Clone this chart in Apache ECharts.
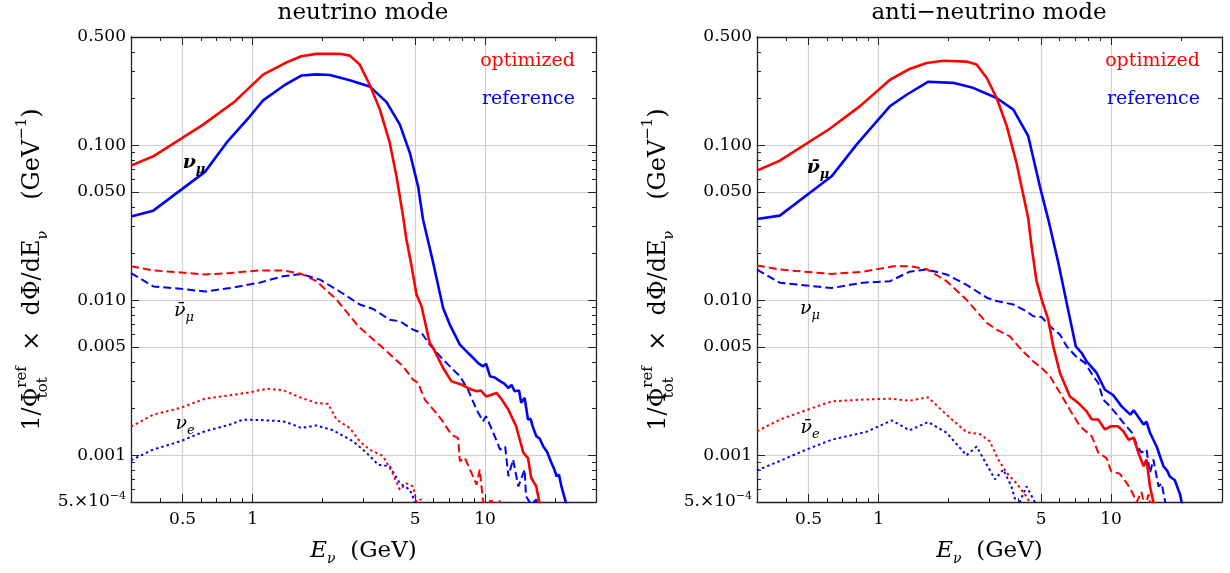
<!DOCTYPE html>
<html>
<head>
<meta charset="utf-8">
<title>neutrino / anti-neutrino flux</title>
<script src="https://cdn.jsdelivr.net/npm/echarts@6/dist/echarts.min.js"></script>
<style>
  html, body { margin: 0; padding: 0; background: #fff; }
  #chart { width: 1230px; height: 573px; }
</style>
</head>
<body>
<div id="chart"></div>
<script>
// axis ranges and tick values (GeV, GeV^-1)
var xRange = [0.3, 30];
var yRange = [0.0005, 0.5];
var xTicks = [0.5, 1, 5, 10];
var xMinorTicks = [0.4, 0.6, 0.7, 0.8, 0.9, 2, 3, 4, 6, 7, 8, 9, 20];
var yTicks = [0.5, 0.1, 0.05, 0.01, 0.005, 0.001, 0.0005];
var yMinorTicks = [0.4, 0.3, 0.2, 0.09, 0.08, 0.07, 0.06, 0.04, 0.03, 0.02,
  0.009, 0.008, 0.007, 0.006, 0.004, 0.003, 0.002,
  0.0009, 0.0008, 0.0007, 0.0006];

// neutrino mode: [E, flux]
var nuOptNumu = [[0.3,0.074],[0.374,0.085],[0.613,0.136],[0.839,0.192],[1.11,0.286],[1.40,0.343],[1.62,0.376],[1.88,0.389],[2.37,0.390],[2.62,0.379],[2.89,0.332],[3.19,0.246],[3.53,0.170],[3.89,0.104],[4.16,0.063],[4.44,0.0348],[4.59,0.0247],[4.83,0.0166],[5.07,0.0109],[5.33,0.00916],[5.78,0.00531],[5.98,0.00493],[6.6,0.00366],[7.17,0.00300],[7.92,0.00286],[8.5,0.0027],[9.19,0.00259],[9.6,0.00262],[10.1,0.0024],[10.6,0.00245],[11.2,0.00253],[11.8,0.00229],[12.6,0.00197],[13.6,0.00154],[14.6,0.00104],[15.3,0.00096],[15.8,0.000714],[16.6,0.00063],[17.1,0.000505],[17.5,0.00042]];
var nuRefNumu = [[0.3,0.0348],[0.374,0.0379],[0.624,0.0674],[0.773,0.104],[0.974,0.154],[1.11,0.195],[1.38,0.246],[1.62,0.282],[1.88,0.287],[2.15,0.284],[2.62,0.263],[3.19,0.240],[3.77,0.190],[4.30,0.136],[4.75,0.0893],[5.15,0.0544],[5.41,0.0332],[5.98,0.0175],[6.6,0.00893],[7.05,0.00698],[7.79,0.00518],[8.32,0.00469],[9.03,0.00415],[9.4,0.0039],[9.8,0.00375],[10.1,0.0039],[10.5,0.00324],[11.0,0.00318],[11.6,0.00301],[12.1,0.0029],[12.6,0.00272],[13.0,0.00285],[13.4,0.00259],[14.0,0.00262],[14.3,0.00218],[14.8,0.00235],[15.3,0.0017],[15.7,0.00172],[16.0,0.00155],[16.6,0.00133],[17.2,0.00128],[17.8,0.00114],[18.5,0.00105],[19.3,0.000893],[19.8,0.00082],[20.3,0.000733],[20.8,0.00075],[21.3,0.00063],[22.2,0.000505],[22.6,0.00045]];
var nuOptNumubar = [[0.3,0.0166],[0.374,0.0156],[0.624,0.0147],[0.80,0.0150],[1.07,0.0156],[1.35,0.0156],[1.62,0.0148],[1.88,0.0133],[2.30,0.0101],[2.85,0.0068],[3.64,0.00493],[4.44,0.00375],[4.9,0.00308],[5.15,0.00293],[5.51,0.00229],[6.08,0.00192],[6.5,0.0017],[7.17,0.00136],[7.66,0.00129],[7.79,0.000916],[8.18,0.000964],[8.74,0.00077],[9.19,0.000647],[9.49,0.00081],[9.8,0.000505],[10.3,0.00046],[10.6,0.00053],[11.0,0.00044],[11.5,0.00052],[12.0,0.0004]];
var nuRefNumubar = [[0.3,0.0150],[0.374,0.0123],[0.487,0.0119],[0.624,0.0114],[0.80,0.0120],[1.07,0.0130],[1.35,0.0143],[1.62,0.0148],[1.95,0.0136],[2.37,0.0114],[2.89,0.0094],[3.30,0.0088],[3.89,0.0075],[4.30,0.00733],[4.9,0.00647],[5.33,0.00617],[5.78,0.00518],[6.5,0.00425],[7.17,0.00366],[7.79,0.00324],[8.45,0.00265],[9.19,0.00197],[9.8,0.00166],[10.1,0.00179],[11.0,0.00133],[11.6,0.00109],[12.2,0.00114],[12.6,0.000733],[13.2,0.00094],[13.9,0.00063],[14.8,0.00081],[15.0,0.000544],[15.8,0.00048],[16.6,0.00052],[17.2,0.00042]];
var nuOptNue = [[0.3,0.00153],[0.374,0.00183],[0.487,0.00202],[0.624,0.00232],[0.80,0.00244],[0.974,0.00255],[1.15,0.00269],[1.35,0.00263],[1.62,0.00235],[1.88,0.00218],[2.11,0.00215],[2.30,0.0017],[2.62,0.0015],[2.89,0.00123],[3.19,0.00109],[3.64,0.00099],[3.96,0.00079],[4.30,0.0006],[4.59,0.00066],[4.9,0.00063],[5.07,0.0005],[5.3,0.00052],[5.6,0.00042]];
var nuRefNue = [[0.3,0.00093],[0.374,0.00109],[0.487,0.00123],[0.624,0.00143],[0.80,0.00158],[0.911,0.0017],[1.07,0.00169],[1.35,0.00166],[1.49,0.00158],[1.62,0.0015],[1.88,0.00156],[2.22,0.00145],[2.71,0.00123],[3.09,0.00104],[3.47,0.00087],[3.89,0.00085],[4.30,0.00066],[4.75,0.0006],[5.0,0.0005],[5.2,0.00044]];

// anti-neutrino mode: [E, flux]
var anuOptNumubar = [[0.3,0.0687],[0.376,0.0797],[0.617,0.128],[0.832,0.179],[1.12,0.265],[1.36,0.311],[1.61,0.340],[1.90,0.351],[2.39,0.347],[2.64,0.332],[2.92,0.272],[3.22,0.202],[3.56,0.133],[3.92,0.077],[4.40,0.0340],[4.55,0.0223],[4.78,0.0133],[5.03,0.0101],[5.37,0.0075],[5.64,0.00505],[6.03,0.0034],[6.65,0.0024],[7.22,0.00218],[7.85,0.00192],[8.25,0.00171],[8.81,0.0017],[9.41,0.00147],[10.0,0.00154],[10.7,0.00154],[11.3,0.00143],[11.9,0.00126],[12.5,0.0013],[13.1,0.00104],[13.8,0.00085],[14.2,0.00094],[14.7,0.00063],[15.2,0.0005],[15.5,0.00042]];
var anuRefNumubar = [[0.3,0.0335],[0.376,0.0352],[0.628,0.0631],[0.804,0.101],[1.12,0.179],[1.32,0.212],[1.63,0.257],[2.09,0.253],[2.55,0.235],[3.22,0.202],[3.80,0.170],[4.40,0.115],[4.94,0.0544],[5.37,0.0332],[5.93,0.0175],[6.44,0.00964],[7.05,0.00505],[7.47,0.00458],[7.85,0.00404],[8.67,0.0034],[9.41,0.00265],[10.2,0.00245],[11.1,0.00207],[12.1,0.00183],[12.5,0.00195],[12.9,0.00183],[13.8,0.00158],[14.2,0.00165],[14.7,0.0014],[15.7,0.00114],[16.8,0.00085],[17.4,0.0008],[17.9,0.00073],[18.8,0.00069],[19.8,0.00056],[20.1,0.0005],[20.5,0.00042]];
var anuOptNumu = [[0.3,0.0168],[0.376,0.0158],[0.628,0.0148],[0.859,0.0153],[1.16,0.0166],[1.36,0.0166],[1.61,0.0159],[1.96,0.0133],[2.39,0.0101],[2.92,0.00715],[3.22,0.00647],[3.67,0.00586],[4.12,0.00479],[4.63,0.00404],[5.03,0.00366],[5.46,0.00324],[6.03,0.00253],[6.65,0.00197],[7.35,0.00154],[8.25,0.00133],[8.81,0.00104],[9.57,0.00096],[10.0,0.00079],[10.9,0.00076],[11.7,0.00066],[12.3,0.00058],[12.9,0.0005],[13.5,0.00058],[14.0,0.00046],[14.5,0.00056],[15.0,0.00042]];
var anuRefNumu = [[0.3,0.0158],[0.376,0.0130],[0.628,0.0120],[0.859,0.0130],[1.12,0.0133],[1.36,0.0153],[1.61,0.0158],[1.96,0.0147],[2.39,0.0126],[2.92,0.0104],[3.22,0.0099],[3.80,0.0094],[4.33,0.0085],[4.63,0.0079],[5.03,0.0078],[5.46,0.0068],[6.03,0.00601],[6.44,0.00505],[7.05,0.00436],[7.72,0.00395],[8.38,0.00324],[8.81,0.00293],[9.25,0.00229],[9.9,0.00207],[10.6,0.00183],[11.3,0.00162],[12.3,0.0014],[12.9,0.00117],[13.5,0.00104],[14.2,0.00109],[14.7,0.00077],[15.2,0.00094],[16.0,0.00063],[16.5,0.00066],[17.1,0.0005],[17.5,0.00042]];
var anuOptNuebar = [[0.3,0.00143],[0.376,0.0017],[0.49,0.00196],[0.628,0.00223],[0.859,0.00229],[1.12,0.00232],[1.36,0.00225],[1.63,0.00237],[1.96,0.00183],[2.39,0.00141],[2.73,0.00137],[3.01,0.00123],[3.27,0.00094],[3.56,0.00077],[3.92,0.00066],[4.26,0.00056],[4.50,0.00049],[4.7,0.00042]];
var anuRefNuebar = [[0.3,0.0008],[0.376,0.00092],[0.49,0.00109],[0.628,0.00126],[0.888,0.00142],[1.14,0.00168],[1.36,0.00145],[1.63,0.00164],[1.96,0.0014],[2.39,0.001],[2.64,0.00114],[2.92,0.00087],[3.17,0.0007],[3.44,0.00081],[3.73,0.00063],[3.95,0.00046],[4.33,0.00063],[4.7,0.0005],[4.9,0.00042]];

var RED = '#ff0000', BLUE = '#0000ff';
var FONT = 'DejaVu Serif';

function lg(v) { return Math.log10(v); }
function lgPts(arr) {
  return arr.map(function (p) { return [lg(p[0]), lg(p[1])]; });
}

var grids = [
  { left: 131, top: 37, width: 465, height: 465 },
  { left: 757, top: 37, width: 465, height: 465 }
];

var frameLine = { show: true, onZero: false, lineStyle: { color: '#222', width: 1.3 } };
var noLine = { show: false, onZero: false };

function xAxisFor(g, pos, minor, withLabels) {
  return {
    gridIndex: g, type: 'value', position: pos,
    min: lg(xRange[0]), max: lg(xRange[1]),
    axisLine: minor ? noLine : frameLine,
    axisTick: {
      show: true, inside: true, length: minor ? 4 : 8,
      customValues: (minor ? xMinorTicks : xTicks).map(lg),
      lineStyle: { color: '#222', width: 1 }
    },
    axisLabel: {
      show: !!withLabels, margin: 9,
      customValues: xTicks.map(lg),
      color: '#000', fontFamily: FONT, fontSize: 17,
      formatter: function (v) { return String(Math.round(Math.pow(10, v) * 10) / 10); }
    },
    splitLine: { show: !!withLabels, lineStyle: { color: '#cfcfcf', width: 1.2 } },
    name: withLabels ? '{it|E}{sub|ν}  (GeV)' : '',
    nameLocation: 'middle', nameGap: 34,
    nameTextStyle: {
      color: '#000', fontFamily: FONT, fontSize: 23,
      rich: {
        it: { fontFamily: FONT, fontSize: 23, fontStyle: 'italic', lineHeight: 30, verticalAlign: 'middle' },
        sub: { fontFamily: FONT, fontSize: 14, fontStyle: 'italic', lineHeight: 30, verticalAlign: 'bottom' }
      }
    }
  };
}

function yAxisFor(g, pos, minor, withLabels) {
  return {
    gridIndex: g, type: 'value', position: pos,
    min: lg(yRange[0]), max: lg(yRange[1]),
    axisLine: minor ? noLine : frameLine,
    axisTick: {
      show: true, inside: true, length: minor ? 4 : 8,
      customValues: (minor ? yMinorTicks : yTicks).map(lg),
      lineStyle: { color: '#222', width: 1 }
    },
    axisLabel: {
      show: !!withLabels, margin: 5,
      customValues: yTicks.map(lg),
      color: '#000', fontFamily: FONT, fontSize: 17,
      formatter: function (v) {
        var val = Math.pow(10, v);
        if (val < 0.00099) return '5.×10{sup|−4}';
        return val.toFixed(3);
      },
      rich: {
        sup: { fontFamily: FONT, fontSize: 11, verticalAlign: 'top', lineHeight: 22, color: '#000' }
      }
    },
    splitLine: { show: !!withLabels, lineStyle: { color: '#cfcfcf', width: 1.2 } },
    // "tot" gets zero width so "ref" is drawn right above it
    name: withLabels ? '1/Φ{subz|tot}{sup|ref}  ×  dΦ/dE{sub|ν}    (GeV{sup|−1})' : '',
    nameLocation: 'middle', nameGap: 80, nameRotate: 90,
    nameTextStyle: {
      color: '#000', fontFamily: FONT, fontSize: 24,
      rich: {
        subz: { fontFamily: FONT, fontSize: 15, lineHeight: 36, verticalAlign: 'bottom', width: 0 },
        sup: { fontFamily: FONT, fontSize: 15, lineHeight: 36, verticalAlign: 'top' },
        sub: { fontFamily: FONT, fontSize: 15, lineHeight: 36, verticalAlign: 'bottom' }
      }
    }
  };
}

var xAxes = [], yAxes = [];
for (var g = 0; g < 2; g++) {
  // major with labels, minor, mirrored major and minor
  xAxes.push(xAxisFor(g, 'bottom', false, true));
  xAxes.push(xAxisFor(g, 'bottom', true, false));
  xAxes.push(xAxisFor(g, 'top', false, false));
  xAxes.push(xAxisFor(g, 'top', true, false));
  yAxes.push(yAxisFor(g, 'left', false, true));
  yAxes.push(yAxisFor(g, 'left', true, false));
  yAxes.push(yAxisFor(g, 'right', false, false));
  yAxes.push(yAxisFor(g, 'right', true, false));
}

function line(g, data, color, kind) {
  var st = { color: color, width: 2.6, type: 'solid' };
  if (kind === 'dashed') { st.width = 2; st.type = [8, 4]; }
  if (kind === 'dotted') { st.width = 2; st.type = [2.5, 3]; }
  return {
    type: 'line', xAxisIndex: g * 4, yAxisIndex: g * 4,
    data: lgPts(data), showSymbol: false, symbol: 'none',
    clip: true, lineStyle: st, z: kind === 'solid' ? 4 : 3,
    silent: true
  };
}

var series = [
  line(0, nuRefNue, BLUE, 'dotted'),
  line(0, nuOptNue, RED, 'dotted'),
  line(0, nuRefNumubar, BLUE, 'dashed'),
  line(0, nuOptNumubar, RED, 'dashed'),
  line(0, nuRefNumu, BLUE, 'solid'),
  line(0, nuOptNumu, RED, 'solid'),
  line(1, anuRefNuebar, BLUE, 'dotted'),
  line(1, anuOptNuebar, RED, 'dotted'),
  line(1, anuRefNumu, BLUE, 'dashed'),
  line(1, anuOptNumu, RED, 'dashed'),
  line(1, anuRefNumubar, BLUE, 'solid'),
  line(1, anuOptNumubar, RED, 'solid')
];

var nuRich = {
  n: { fontFamily: FONT, fontSize: 19, fontStyle: 'italic', verticalAlign: 'middle', lineHeight: 26 },
  nb: { fontFamily: FONT, fontSize: 19, fontStyle: 'italic', fontWeight: 'bold', verticalAlign: 'middle', lineHeight: 26 },
  s: { fontFamily: FONT, fontSize: 13, fontStyle: 'italic', verticalAlign: 'bottom', lineHeight: 26 },
  sb: { fontFamily: FONT, fontSize: 13, fontStyle: 'italic', fontWeight: 'bold', verticalAlign: 'bottom', lineHeight: 26 }
};

function label(x, y, text) {
  return {
    type: 'text', x: x, y: y, z: 10, silent: true,
    style: { text: text, rich: nuRich, fill: '#000', align: 'center', verticalAlign: 'middle' }
  };
}
function plainText(x, y, text, color, size, align) {
  return {
    type: 'text', x: x, y: y, z: 10, silent: true,
    style: {
      text: text, fill: color, fontFamily: FONT, fontSize: size,
      align: align, verticalAlign: 'middle'
    }
  };
}

var graphics = [
  plainText(363, 13, 'neutrino mode', '#000', 23, 'center'),
  plainText(989, 13, 'anti−neutrino mode', '#000', 23, 'center'),
  plainText(575, 61, 'optimized', RED, 19, 'right'),
  plainText(575, 99, 'reference', BLUE, 19, 'right'),
  plainText(1200, 61, 'optimized', RED, 19, 'right'),
  plainText(1200, 99, 'reference', BLUE, 19, 'right'),
  label(194, 163, '{nb|ν}{sb|μ}'),
  label(184, 311, '{n|ν̄}{s|μ}'),
  label(185, 424, '{n|ν}{s|e}'),
  label(818, 168, '{nb|ν̄}{sb|μ}'),
  label(810, 309, '{n|ν}{s|μ}'),
  label(810, 428, '{n|ν̄}{s|e}')
];

var option = {
  animation: false,
  backgroundColor: '#fff',
  grid: grids,
  xAxis: xAxes,
  yAxis: yAxes,
  series: series,
  graphic: graphics
};

var myChart = echarts.init(document.getElementById('chart'), null, { renderer: 'canvas' });
myChart.setOption(option);
</script>
</body>
</html>
